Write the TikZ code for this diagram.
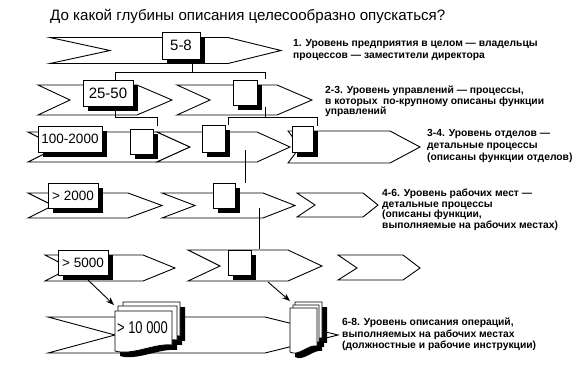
\documentclass[tikz,border=0pt]{standalone}
\usepackage{fontspec}
\setmainfont{Liberation Sans}
\usetikzlibrary{arrows.meta,shadows}
\newcommand\mychev[7]{\draw[chevline] (#1,#5) -- (#3,#5) -- (#4,#7) -- (#3,#6) -- (#1,#6) -- (#2,#7) -- cycle;}
\newcommand\mysheet[5]{\path[#5] (#1,#2) -- (#3,#2) -- ({#3},{#4-6}) .. controls ({#3-0.3*(#3-#1)},{#4-8}) and ({#1+0.3*(#3-#1)},{#4+5}) .. (#1,#4) -- cycle;}
\begin{document}
\begin{tikzpicture}[x=1pt,y=-1pt,line join=miter,
  chevline/.style={fill=white,draw=black,line width=0.9pt},
  box/.style={draw=black,fill=white,line width=0.9pt,inner sep=0pt,
    drop shadow={opacity=1,fill=black,shadow xshift=5pt,shadow yshift=-5pt}},
  lbl/.style={anchor=base west,inner sep=0pt,font=\fontsize{10.3}{12}\selectfont\bfseries},
  bignum/.style={font=\fontsize{15}{17}\selectfont},
  num/.style={font=\fontsize{13.5}{15}\selectfont},
  conn/.style={line width=0.9pt},
  arr/.style={line width=0.9pt,-{Stealth[length=8pt,width=6pt]}},
  sheetw/.style={fill=white,draw=black,line width=0.8pt},
  sheetb/.style={fill=black}]

\useasboundingbox (0,0) rectangle (580,369);
\fill[white] (0,0) rectangle (580,369);

% title
\node[anchor=base west,inner sep=0pt,font=\fontsize{15.1}{17}\selectfont] (title) at (50,20.5)
  {До какой глубины описания целесообразно опускаться?};

% chevrons
\mychev{50}{110}{228}{281}{37.5}{63.5}{50.5}
\mychev{38}{70}{137}{172}{85}{115}{100}
\mychev{177}{210}{277}{312}{85}{115}{100}
\mychev{288}{300}{390}{420}{131}{163}{147}
\mychev{28}{58}{157}{190}{132}{162}{147}
\mychev{157}{190}{257}{290}{132}{162}{147}
\mychev{28}{53}{128}{162}{193}{218}{205.5}
\mychev{162}{195}{263}{295}{193}{218}{205.5}
\mychev{297}{315}{363}{378}{193}{217}{205}
\mychev{45}{70}{143}{175}{255}{281}{268}
\mychev{188}{220}{288}{322}{250}{281}{266}
\mychev{338}{357}{403}{420}{255}{280}{268}
\mychev{48}{115}{265}{338}{317}{353}{335}

% boxes
\node[box,bignum,minimum width=38pt,minimum height=27pt] (b58) at (181,45.5) {5-8};
\node[box,bignum,minimum width=50pt,minimum height=26pt] (b2550) at (108,93) {25-50};
\node[box,minimum width=24pt,minimum height=25pt] (b2m) at (245,92.5) {};
\node[box,num,minimum width=64pt,minimum height=26pt] (b100) at (70,139) {100-2000};
\node[box,minimum width=23pt,minimum height=25pt] (b3a) at (141.5,141.5) {};
\node[box,minimum width=23pt,minimum height=27pt] (b3b) at (213.5,138.5) {};
\node[box,minimum width=21pt,minimum height=26pt] (b3c) at (302.5,139) {};
\node[box,num,minimum width=50pt,minimum height=25pt] (b2000) at (73,195.5) {> 2000};
\node[box,minimum width=22pt,minimum height=25pt] (b4m) at (224,195.5) {};
\node[box,num,minimum width=50pt,minimum height=25pt] (b5000) at (83,262.5) {> 5000};
\node[box,minimum width=23pt,minimum height=25pt] (b5m) at (239.5,262.5) {};

% connectors
\coordinate (j1) at (192,72);
\coordinate (j1l) at (115,72);
\coordinate (j1r) at (265,72);
\coordinate (e1r) at (265,79);
\draw[conn] (b58.south -| j1) -- (j1);
\draw[conn] (j1l) -- (j1r);
\draw[conn] (j1l) -- (b2550.north -| j1l);
\draw[conn] (j1r) -- (e1r);

\coordinate (j2) at (115,117);
\coordinate (j2r) at (157,117);
\coordinate (e2r) at (157,126);
\draw[conn] (b2550.south -| j2) -- (j2) -- (j2r) -- (e2r);

\coordinate (s3) at (265,107);
\coordinate (j3) at (265,117);
\coordinate (j3l) at (228,117);
\coordinate (j3r) at (317,117);
\coordinate (e3l) at (228,125);
\coordinate (e3r) at (317,126);
\draw[conn] (s3) -- (j3);
\draw[conn] (j3l) -- (j3r);
\draw[conn] (j3l) -- (e3l);
\draw[conn] (j3r) -- (e3r);

\coordinate (s4) at (245,150);
\coordinate (e4) at (245,183);
\draw[conn] (s4) -- (e4);
\coordinate (s5) at (259,208);
\coordinate (e5) at (259,249);
\draw[conn] (s5) -- (e5);

% document stacks
\begin{scope}[shift={(5,5)}]
\mysheet{123}{302}{180}{342}{sheetb}
\mysheet{118}{306}{177}{346}{sheetb}
\mysheet{115}{311}{172}{351}{sheetb}
\mysheet{295}{302}{322}{344}{sheetb}
\mysheet{293}{305}{319}{348}{sheetb}
\mysheet{290}{308}{317}{352}{sheetb}
\end{scope}
\mysheet{123}{302}{180}{342}{sheetw}
\mysheet{118}{306}{177}{346}{sheetw}
\mysheet{115}{311}{172}{351}{sheetw}
\mysheet{295}{302}{322}{344}{sheetw}
\mysheet{293}{305}{319}{348}{sheetw}
\mysheet{290}{308}{317}{352}{sheetw}
\node[inner sep=0pt,font=\fontsize{17}{19}\selectfont,xscale=0.76] (t10k) at (142.5,328) {> 10 000};
\coordinate (stackL) at (114,305);
\coordinate (stackR) at (290,301);

% arrows
\coordinate (a1) at (88,280);
\coordinate (a2) at (268,282);
\draw[arr] (a1) -- (stackL);
\draw[arr] (a2) -- (stackR);

% texts
\node[lbl] (t1a) at (293,46.5) {1. Уровень предприятия в целом — владельцы};
\node[lbl] (t1b) at (293,58.5) {процессов — заместители директора};
\node[lbl] (t2a) at (325,93.5) {2-3. Уровень управлений — процессы,};
\node[lbl] (t2b) at (325,104) {в которых\ \ по-крупному описаны функции};
\node[lbl] (t2c) at (325,114.5) {управлений};
\node[lbl] (t3a) at (427,136.5) {3-4. Уровень отделов —};
\node[lbl] (t3b) at (427,148.5) {детальные процессы};
\node[lbl] (t3c) at (427,160.5) {(описаны функции отделов)};
\node[lbl] (t4a) at (382,196.5) {4-6. Уровень рабочих мест —};
\node[lbl] (t4b) at (382,207) {детальные процессы};
\node[lbl] (t4c) at (382,217.5) {(описаны функции,};
\node[lbl] (t4d) at (382,228) {выполняемые на рабочих местах)};
\node[lbl] (t5a) at (342,325.5) {6-8. Уровень описания операций,};
\node[lbl] (t5b) at (342,337) {выполняемых на рабочих местах};
\node[lbl] (t5c) at (342,348.5) {(должностные и рабочие инструкции)};
\end{tikzpicture}
\end{document}
